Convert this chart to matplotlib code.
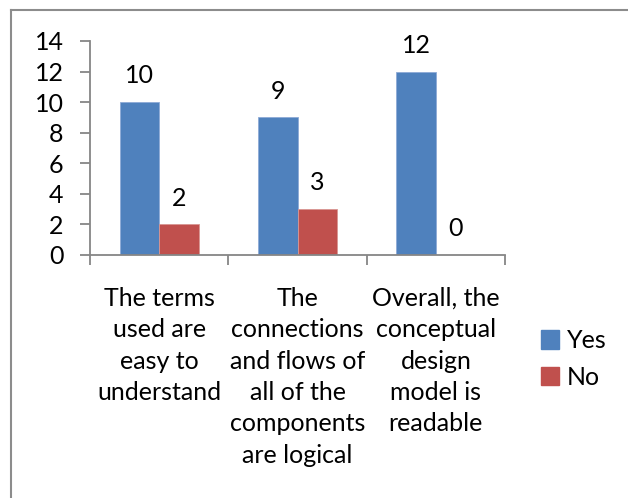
import matplotlib
matplotlib.use("Agg")
import matplotlib.pyplot as plt
from matplotlib.lines import Line2D
import numpy as np

plt.rcParams['font.family'] = ['Lato', 'DejaVu Sans']

categories = [
    "The terms\nused are\neasy to\nunderstand",
    "The\nconnections\nand flows of\nall of the\ncomponents\nare logical",
    "Overall, the\nconceptual\ndesign\nmodel is\nreadable",
]
series_names = ["Yes", "No"]
yes_values = [10, 9, 12]
no_values = [2, 3, 0]
y_ticks = [0, 2, 4, 6, 8, 10, 12, 14]

blue = "#4F81BD"
red = "#C0504D"
axis_grey = "#868686"
fs = 18

fig = plt.figure(figsize=(6.28, 4.98), dpi=100)
W, H = 628, 498
ax = fig.add_axes([90 / W, (H - 255) / H, (505 - 90) / W, (255 - 41) / H])

x = np.arange(len(categories))
bw = 0.285
ax.bar(x - bw / 2, yes_values, bw, color=blue, edgecolor="#8EAAD6", linewidth=0.6,
       label=series_names[0])
ax.bar(x + bw / 2, no_values, bw, color=red, edgecolor="#D99693", linewidth=0.6,
       label=series_names[1])

for xi, v in zip(x - bw / 2, yes_values):
    ax.annotate(str(v), (xi, v), xytext=(0, 13.5), textcoords="offset points",
                ha="center", va="baseline", fontsize=fs)
for xi, v in zip(x + bw / 2, no_values):
    ax.annotate(str(v), (xi, v), xytext=(0, 13.5), textcoords="offset points",
                ha="center", va="baseline", fontsize=fs)

ax.set_xlim(-0.5, len(categories) - 0.5)
ax.set_ylim(0, 14)
ax.set_yticks(y_ticks)
ax.set_yticklabels([str(t) for t in y_ticks], fontsize=fs)

# category boundaries carry the tick marks, centres carry the labels
ax.set_xticks(np.arange(len(categories) + 1) - 0.5)
ax.set_xticklabels([])
ax.set_xticks(x, minor=True)
ax.set_xticklabels(categories, minor=True, fontsize=fs, linespacing=1.44)
ax.tick_params(axis="x", which="minor", length=0, pad=23)
ax.tick_params(axis="x", which="major", length=7, width=1.3, color=axis_grey, direction="out")
ax.tick_params(axis="y", length=7, width=1.3, color=axis_grey, direction="out", pad=12)

for s in ["top", "right"]:
    ax.spines[s].set_visible(False)
for s in ["left", "bottom"]:
    ax.spines[s].set_color(axis_grey)
    ax.spines[s].set_linewidth(1.3)

handles = [plt.Rectangle((0, 0), 1, 1, color=blue), plt.Rectangle((0, 0), 1, 1, color=red)]
fig.legend(handles, series_names, loc="center left", bbox_to_anchor=(518 / W, 1 - 359 / H),
           frameon=False, fontsize=fs, handlelength=0.75, handleheight=0.75,
           handletextpad=0.3, labelspacing=0.55)

# chart area outline
fig.add_artist(Line2D([10.5 / W, 10.5 / W], [0, 1 - 10.5 / H], transform=fig.transFigure,
                      color="#8C8C8C", linewidth=1.5))
fig.add_artist(Line2D([10.5 / W, 1], [1 - 10.5 / H, 1 - 10.5 / H], transform=fig.transFigure,
                      color="#8C8C8C", linewidth=1.5))

fig.savefig("out.png", dpi=100)
